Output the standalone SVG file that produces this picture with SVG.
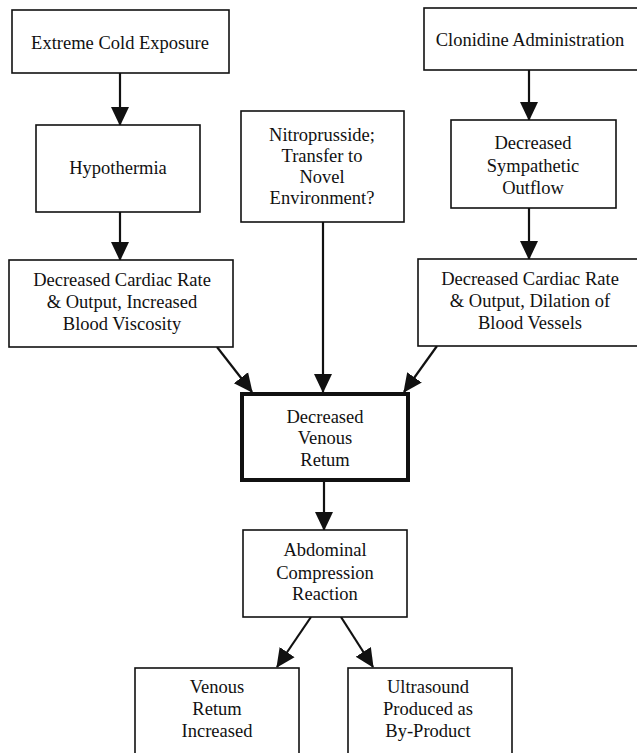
<svg xmlns="http://www.w3.org/2000/svg" width="637" height="753" viewBox="0 0 637 753">
<defs>
<style>
.box{fill:#fff;stroke:#111;stroke-width:1.6}
.thick{fill:#fff;stroke:#111;stroke-width:4}
text{font-family:"Liberation Serif","Times New Roman",serif;font-size:18.5px;fill:#111;text-anchor:middle}
.c{stroke:#111;stroke-width:2.2;fill:none}
</style>
<marker id="ah" markerUnits="userSpaceOnUse" markerWidth="20" markerHeight="20" refX="18" refY="10" orient="auto">
<path d="M0,1 L19,10 L0,19 Z" fill="#111"/>
</marker>
</defs>
<rect width="637" height="753" fill="#fff"/>
<g id="connectors">
<line class="c" x1="120" y1="73" x2="120" y2="125" marker-end="url(#ah)"/>
<line class="c" x1="529" y1="70" x2="529" y2="120" marker-end="url(#ah)"/>
<line class="c" x1="120" y1="212" x2="120" y2="260" marker-end="url(#ah)"/>
<line class="c" x1="529" y1="208" x2="529" y2="259" marker-end="url(#ah)"/>
<line class="c" x1="217" y1="347" x2="252" y2="392" marker-end="url(#ah)"/>
<line class="c" x1="323" y1="222" x2="323" y2="392" marker-end="url(#ah)"/>
<line class="c" x1="437" y1="346" x2="404" y2="392" marker-end="url(#ah)"/>
<line class="c" x1="324" y1="480" x2="324" y2="530" marker-end="url(#ah)"/>
<line class="c" x1="311" y1="617" x2="277" y2="667" marker-end="url(#ah)"/>
<line class="c" x1="341" y1="617" x2="373" y2="667" marker-end="url(#ah)"/>
</g>
<g id="cold">
<rect class="box" x="12" y="10" width="217" height="63"/>
<text x="120" y="49">Extreme Cold Exposure</text>
</g>
<g id="clonidine">
<rect class="box" x="424" y="8" width="230" height="62"/>
<text x="530" y="46">Clonidine Administration</text>
</g>
<g id="hypothermia">
<rect class="box" x="36" y="125" width="164" height="87"/>
<text x="118" y="174">Hypothermia</text>
</g>
<g id="nitroprusside">
<rect class="box" x="241" y="111" width="163" height="111"/>
<text x="322" y="141">Nitroprusside;</text>
<text x="322" y="162">Transfer to</text>
<text x="322" y="183">Novel</text>
<text x="322" y="204">Environment?</text>
</g>
<g id="sympathetic">
<rect class="box" x="451" y="120" width="165" height="88"/>
<text x="533" y="149">Decreased</text>
<text x="533" y="172">Sympathetic</text>
<text x="533" y="194">Outflow</text>
</g>
<g id="cardiac-left">
<rect class="box" x="9" y="260" width="224" height="87"/>
<text x="122" y="286">Decreased Cardiac Rate</text>
<text x="122" y="308">&amp; Output, Increased</text>
<text x="122" y="330">Blood Viscosity</text>
</g>
<g id="cardiac-right">
<rect class="box" x="418" y="259" width="230" height="87"/>
<text x="530" y="285">Decreased Cardiac Rate</text>
<text x="530" y="307">&amp; Output, Dilation of</text>
<text x="530" y="329">Blood Vessels</text>
</g>
<g id="venous-return">
<rect class="thick" x="242" y="394" width="166" height="86"/>
<text x="325" y="423">Decreased</text>
<text x="325" y="444">Venous</text>
<text x="325" y="466">Retum</text>
</g>
<g id="abdominal">
<rect class="box" x="243" y="530" width="164" height="87"/>
<text x="325" y="556">Abdominal</text>
<text x="325" y="579">Compression</text>
<text x="325" y="600">Reaction</text>
</g>
<g id="venous-increased">
<rect class="box" x="135" y="668" width="164" height="110"/>
<text x="217" y="693">Venous</text>
<text x="217" y="715">Retum</text>
<text x="217" y="737">Increased</text>
</g>
<g id="ultrasound">
<rect class="box" x="348" y="668" width="164" height="110"/>
<text x="428" y="693">Ultrasound</text>
<text x="428" y="715">Produced as</text>
<text x="428" y="737">By-Product</text>
</g>
</svg>
